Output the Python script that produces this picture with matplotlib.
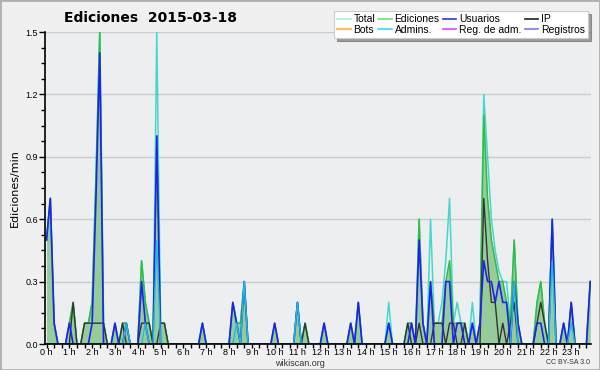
import matplotlib
matplotlib.use("Agg")
import matplotlib.pyplot as plt
from matplotlib.lines import Line2D
from matplotlib.patches import Rectangle
from matplotlib.ticker import MultipleLocator, FixedLocator
import numpy as np

# 10-minute slots (6 per hour, 24 hours), values in edits/min
total = [
    0.5, 0.7, 0.1, 0, 0, 0,
    0.1, 0.2, 0, 0, 0.1, 0.1,
    0.2, 0.8, 1.5, 0.1, 0, 0,
    0.1, 0, 0.1, 0.1, 0, 0,
    0, 0.4, 0.2, 0.1, 0, 1.5,
    0.1, 0.1, 0, 0, 0, 0,
    0, 0, 0, 0, 0, 0.1,
    0, 0, 0, 0, 0, 0,
    0, 0.2, 0.1, 0.1, 0.3, 0,
    0, 0, 0, 0, 0, 0,
    0.1, 0, 0, 0, 0, 0,
    0.2, 0, 0.1, 0, 0, 0,
    0, 0.1, 0, 0, 0, 0,
    0, 0, 0.1, 0, 0.2, 0,
    0, 0, 0, 0, 0, 0,
    0.2, 0, 0, 0, 0, 0.1,
    0.1, 0, 0.6, 0.1, 0, 0.6,
    0.1, 0.1, 0.2, 0.4, 0.7, 0.1,
    0.2, 0.1, 0.1, 0, 0.2, 0,
    0.1, 1.2, 0.9, 0.6, 0.45, 0.35,
    0.3, 0.3, 0.1, 0.5, 0.1, 0,
    0, 0, 0, 0.2, 0.3, 0.1,
    0, 0.6, 0, 0, 0.1, 0,
    0.2, 0, 0, 0, 0, 0.3,
]
ediciones = [
    0.5, 0.7, 0.1, 0, 0, 0,
    0.1, 0.2, 0, 0, 0.1, 0.1,
    0.2, 0.8, 1.5, 0.1, 0, 0,
    0.1, 0, 0.1, 0.1, 0, 0,
    0, 0.4, 0.2, 0.1, 0, 1.0,
    0.1, 0.1, 0, 0, 0, 0,
    0, 0, 0, 0, 0, 0.1,
    0, 0, 0, 0, 0, 0,
    0, 0.2, 0.1, 0.1, 0.3, 0,
    0, 0, 0, 0, 0, 0,
    0.1, 0, 0, 0, 0, 0,
    0.2, 0, 0.1, 0, 0, 0,
    0, 0.1, 0, 0, 0, 0,
    0, 0, 0.1, 0, 0.2, 0,
    0, 0, 0, 0, 0, 0,
    0.1, 0, 0, 0, 0, 0.1,
    0.1, 0, 0.6, 0.1, 0, 0.3,
    0.1, 0.1, 0.1, 0.3, 0.4, 0.1,
    0.1, 0.1, 0.1, 0, 0.1, 0,
    0.1, 1.1, 0.7, 0.5, 0.4, 0.3,
    0.3, 0.2, 0.1, 0.5, 0.1, 0,
    0, 0, 0, 0.2, 0.3, 0.1,
    0, 0.6, 0, 0, 0.1, 0,
    0.2, 0, 0, 0, 0, 0.3,
]
usuarios = [
    0.5, 0.7, 0.1, 0, 0, 0,
    0.1, 0, 0, 0, 0, 0,
    0.1, 0.7, 1.4, 0, 0, 0,
    0.1, 0, 0, 0.1, 0, 0,
    0, 0.3, 0.1, 0, 0, 1.0,
    0, 0, 0, 0, 0, 0,
    0, 0, 0, 0, 0, 0.1,
    0, 0, 0, 0, 0, 0,
    0, 0.2, 0.1, 0, 0.3, 0,
    0, 0, 0, 0, 0, 0,
    0.1, 0, 0, 0, 0, 0,
    0.2, 0, 0, 0, 0, 0,
    0, 0.1, 0, 0, 0, 0,
    0, 0, 0.1, 0, 0.2, 0,
    0, 0, 0, 0, 0, 0,
    0.1, 0, 0, 0, 0, 0,
    0.1, 0, 0.5, 0.1, 0, 0.3,
    0, 0, 0, 0.3, 0.3, 0,
    0.1, 0.1, 0, 0, 0.1, 0,
    0.1, 0.4, 0.3, 0.3, 0.2, 0.3,
    0.2, 0.2, 0, 0.3, 0.1, 0,
    0, 0, 0, 0.1, 0.1, 0,
    0, 0.6, 0, 0, 0.1, 0,
    0.2, 0, 0, 0, 0, 0.3,
]
ip = [
    0, 0, 0, 0, 0, 0,
    0, 0.2, 0, 0, 0.1, 0.1,
    0.1, 0.1, 0.1, 0.1, 0, 0,
    0, 0, 0.1, 0, 0, 0,
    0, 0.1, 0.1, 0.1, 0, 0,
    0.1, 0.1, 0, 0, 0, 0,
    0, 0, 0, 0, 0, 0,
    0, 0, 0, 0, 0, 0,
    0, 0, 0, 0, 0, 0,
    0, 0, 0, 0, 0, 0,
    0, 0, 0, 0, 0, 0,
    0, 0, 0.1, 0, 0, 0,
    0, 0, 0, 0, 0, 0,
    0, 0, 0, 0, 0, 0,
    0, 0, 0, 0, 0, 0,
    0, 0, 0, 0, 0, 0.1,
    0, 0, 0.1, 0, 0, 0,
    0.1, 0.1, 0.1, 0, 0.1, 0.1,
    0, 0, 0.1, 0, 0, 0,
    0, 0.7, 0.4, 0.2, 0.2, 0,
    0.1, 0, 0.1, 0.2, 0, 0,
    0, 0, 0, 0.1, 0.2, 0.1,
    0, 0, 0, 0, 0, 0,
    0, 0, 0, 0, 0, 0,
]
admins = [
    0, 0, 0, 0, 0, 0,
    0, 0, 0, 0, 0, 0,
    0, 0, 0, 0, 0, 0,
    0, 0, 0, 0.1, 0, 0,
    0, 0, 0.1, 0, 0, 0.5,
    0, 0, 0, 0, 0, 0,
    0, 0, 0, 0, 0, 0,
    0, 0, 0, 0, 0, 0,
    0, 0, 0.1, 0, 0.3, 0,
    0, 0, 0, 0, 0, 0,
    0, 0, 0, 0, 0, 0,
    0.2, 0, 0, 0, 0, 0,
    0, 0, 0, 0, 0, 0,
    0, 0, 0, 0, 0, 0,
    0, 0, 0, 0, 0, 0,
    0, 0, 0, 0, 0, 0,
    0, 0, 0, 0, 0, 0,
    0, 0, 0, 0, 0, 0,
    0, 0, 0, 0, 0, 0,
    0, 0, 0, 0, 0, 0,
    0, 0, 0, 0.3, 0, 0,
    0, 0, 0, 0, 0, 0,
    0, 0.4, 0, 0, 0, 0,
    0.1, 0, 0, 0, 0, 0,
]
hour_labels = [f"{h} h" for h in range(24)]
legend_labels = ["Total", "Ediciones", "Usuarios", "IP",
                 "Bots", "Admins.", "Reg. de adm.", "Registros"]
legend_colors = ["#aaeeee", "#77dd77", "#3333ee", "#222222",
                 "#ffaa33", "#33ddee", "#ee44ee", "#7777ff"]

plt.rcParams['font.family'] = ['DejaVu Sans']
fig = plt.figure(figsize=(6, 3.7), dpi=100, facecolor="#f0f0f0")
fig.patches.append(Rectangle((0, 0), 1, 1, transform=fig.transFigure,
                             fill=False, edgecolor="#b0b0b0", lw=2))
ax = fig.add_axes([45/600, 1-344/370, 546/600, 312/370])
ax.set_facecolor("#eceef0")

x = np.arange(len(total))
ax.fill_between(x, ediciones, 0, color="#8cc990", alpha=0.9, lw=0, zorder=2)
ax.plot(x, ediciones, color="#33bb44", lw=1.1, zorder=3)
ax.plot(x, total, color="#44d8cc", lw=1.1, zorder=2.5)
ax.plot(x, ip, color="#333333", lw=1.0, zorder=4)
ax.plot(x, usuarios, color="#2020f0", lw=1.2, zorder=5)
ax.plot(x, admins, color="#22bbdd", lw=1.0, zorder=5.5)

ax.set_xlim(-0.4, 143.2)
ax.set_ylim(0, 1.5)
ax.yaxis.set_major_locator(FixedLocator([0, 0.3, 0.6, 0.9, 1.2, 1.5]))
ax.yaxis.set_minor_locator(MultipleLocator(0.075))
ax.set_yticklabels(["0.0", "0.3", "0.6", "0.9", "1.2", "1.5"],
                   fontsize=6.5, family="Liberation Sans")
ax.set_xticks(np.arange(24) * 6)
ax.set_xticklabels(hour_labels, fontsize=6.5, family="Liberation Sans")
ax.xaxis.set_minor_locator(MultipleLocator(2))
ax.tick_params(axis="x", which="major", length=3, width=1, pad=0)
ax.tick_params(axis="y", which="major", length=4, width=1, pad=1)
ax.tick_params(axis="x", which="minor", length=3, width=1)
ax.tick_params(axis="y", which="minor", length=3, width=1)
ax.grid(axis="y", color="#cccccc", lw=1, zorder=0)
ax.set_axisbelow(True)
for s in ["top", "right"]:
    ax.spines[s].set_visible(False)
for s in ["left", "bottom"]:
    ax.spines[s].set_linewidth(1.2)
    ax.spines[s].set_zorder(10)
ax.set_ylabel("Ediciones/min", fontsize=8, labelpad=4)

fig.text(150/600, 1-18/370, "Ediciones  2015-03-18", fontsize=10,
         fontweight="bold", ha="center", va="center")
fig.text(300/600, 1-363.5/370, "wikiscan.org", fontsize=6.5, color="#333333",
         ha="center", va="center", family="Liberation Sans")
fig.text(590/600, 1-363/370, "CC BY-SA 3.0", fontsize=5, color="#333333",
         ha="right", va="center", family="Liberation Sans")

handles = [Line2D([0], [0], color=c, lw=1.2) for c in legend_colors]
order = [0, 4, 1, 5, 2, 6, 3, 7]
leg = fig.legend([handles[i] for i in order], [legend_labels[i] for i in order],
                 loc="upper right", bbox_to_anchor=(593/600, 1-6/370),
                 ncol=4, handlelength=1.3, handletextpad=0.25,
                 columnspacing=0.3, labelspacing=0.05, borderpad=0.3,
                 fancybox=False, shadow=True, framealpha=1,
                 prop={"family": "Liberation Sans", "size": 7.5})
leg.get_frame().set_edgecolor("#cccccc")
leg.get_frame().set_linewidth(0.8)

fig.savefig("out.png", dpi=100, facecolor=fig.get_facecolor())
